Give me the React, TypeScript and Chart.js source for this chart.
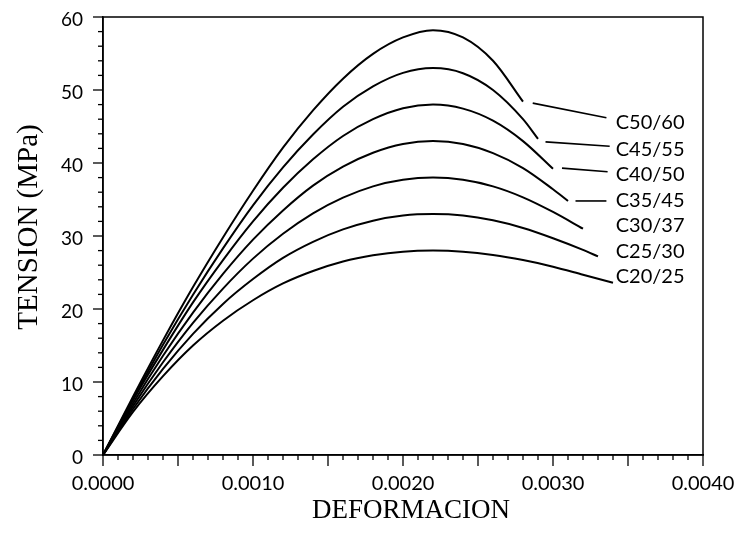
import React, { useEffect, useRef } from "react";
import { Chart, registerables } from "chart.js";

Chart.register(...registerables);

// Strain grid (shared sampling points)
const STRAIN = [
  0, 0.0002, 0.0004, 0.0006, 0.0008, 0.001, 0.0012, 0.0014, 0.0016,
  0.0018, 0.002, 0.0022, 0.0024, 0.0026, 0.0028, 0.003, 0.0032,
];

const CLASSES = ["C20/25", "C25/30", "C30/37", "C35/45", "C40/50", "C45/55", "C50/60"];

// Ultimate (last) strain of each curve
const CRUSH_STRAIN = [0.0034, 0.0033, 0.0032, 0.0031, 0.003, 0.0029, 0.0028];

// Stress values (MPa) at STRAIN grid points below the crush strain, last value at crush strain
const C20_25 = [0, 5.9, 10.8, 15.0, 18.4, 21.2, 23.5, 25.2, 26.5, 27.35, 27.85, 28.0, 27.85, 27.4, 26.7, 25.8, 24.7, 23.6];
const C25_30 = [0, 6.3, 11.8, 16.6, 20.7, 24.1, 27.0, 29.2, 30.9, 32.1, 32.8, 33.0, 32.8, 32.15, 31.1, 29.7, 28.1, 27.2];
const C30_37 = [0, 6.7, 12.7, 18.1, 22.8, 26.9, 30.3, 33.1, 35.25, 36.8, 37.7, 38.0, 37.7, 36.8, 35.3, 33.3, 31.0];
const C35_45 = [0, 7.1, 13.6, 19.5, 24.8, 29.5, 33.5, 36.9, 39.5, 41.4, 42.6, 43.0, 42.6, 41.35, 39.3, 36.4, 34.8];
const C40_50 = [0, 7.5, 14.4, 20.9, 26.7, 32.0, 36.6, 40.5, 43.7, 46.0, 47.5, 48.0, 47.45, 45.8, 43.0, 39.2];
const C45_55 = [0, 7.7, 15.1, 21.95, 28.3, 34.2, 39.4, 43.9, 47.7, 50.5, 52.35, 53.0, 52.3, 50.0, 46.0, 43.3];
const C50_60 = [0, 8.0, 15.7, 23.0, 29.8, 36.2, 42.1, 47.2, 51.55, 54.95, 57.2, 58.2, 57.2, 54.0, 48.4];

const STRESS = [C20_25, C25_30, C30_37, C35_45, C40_50, C45_55, C50_60];

// Series labels (data coordinates)
const LABEL_STRAIN = 0.003418;
const LABEL_STRESS = [24.4, 27.9, 31.5, 34.8, 38.4, 41.9, 45.5];

// Leader lines for the upper labels
const LEADER_CLASSES = ["C35/45", "C40/50", "C45/55", "C50/60"];
const LEADER_X0 = [0.00315, 0.00306, 0.00295, 0.002865];
const LEADER_Y0 = [34.8, 39.3, 42.9, 48.2];
const LEADER_X1 = [0.003356, 0.003364, 0.003378, 0.003356];
const LEADER_Y1 = [34.8, 38.8, 42.3, 46.2];

// Axis ticks
const X_MIN = 0;
const X_MAX = 0.004;
const X_TICK_LABELS = ["0.0000", "0.0010", "0.0020", "0.0030", "0.0040"];
const X_TICK_VALUES = [0, 0.001, 0.002, 0.003, 0.004];
const X_MINOR_STEP = 0.0001;
const Y_MIN = 0;
const Y_MAX = 60;
const Y_TICK_VALUES = [0, 10, 20, 30, 40, 50, 60];
const Y_MINOR_STEP = 2;

const X_TITLE = "DEFORMACION";
const Y_TITLE = "TENSION (MPa)";

const SANS = "Lato, 'Open Sans', sans-serif";
const SERIF = "'Liberation Serif', 'Times New Roman', serif";

function buildCurve(k: number) {
  const vals = STRESS[k];
  const n = vals.length;
  return vals.map((s, i) => ({ x: i < n - 1 ? STRAIN[i] : CRUSH_STRAIN[k], y: s }));
}

const decorPlugin = {
  id: "decor",
  afterDraw(chart: any) {
    const { ctx, chartArea, scales } = chart;
    const xs = scales.x;
    const ys = scales.y;
    ctx.save();
    ctx.strokeStyle = "#000";
    ctx.lineWidth = 1.5;
    // frame
    ctx.strokeRect(chartArea.left, chartArea.top, chartArea.right - chartArea.left, chartArea.bottom - chartArea.top);
    // x ticks
    const nx = Math.round((X_MAX - X_MIN) / X_MINOR_STEP);
    ctx.lineWidth = 1.3;
    for (let i = 0; i <= nx; i++) {
      const px = xs.getPixelForValue(X_MIN + i * X_MINOR_STEP);
      const len = i % 5 === 0 ? 11 : 5;
      ctx.beginPath();
      ctx.moveTo(px, chartArea.bottom);
      ctx.lineTo(px, chartArea.bottom + len);
      ctx.stroke();
    }
    // y ticks
    const ny = Math.round((Y_MAX - Y_MIN) / Y_MINOR_STEP);
    for (let j = 0; j <= ny; j++) {
      const py = ys.getPixelForValue(Y_MIN + j * Y_MINOR_STEP);
      const len = j % 5 === 0 ? 10 : 5;
      ctx.beginPath();
      ctx.moveTo(chartArea.left, py);
      ctx.lineTo(chartArea.left - len, py);
      ctx.stroke();
    }
    ctx.fillStyle = "#000";
    // x tick labels
    ctx.font = `20px ${SANS}`;
    ctx.textAlign = "center";
    ctx.textBaseline = "middle";
    X_TICK_VALUES.forEach((v, i) => {
      ctx.fillText(X_TICK_LABELS[i], xs.getPixelForValue(v), chartArea.bottom + 29);
    });
    // y tick labels
    ctx.font = `19px ${SANS}`;
    ctx.textAlign = "right";
    Y_TICK_VALUES.forEach((v) => {
      ctx.fillText(String(v), chartArea.left - 20, ys.getPixelForValue(v) + 3);
    });
    // x title
    ctx.font = `27px ${SERIF}`;
    ctx.textAlign = "center";
    ctx.fillText(X_TITLE, (chartArea.left + chartArea.right) / 2 + 8, chartArea.bottom + 56);
    // y title
    ctx.save();
    ctx.translate(29, (chartArea.top + chartArea.bottom) / 2 - 9);
    ctx.rotate(-Math.PI / 2);
    ctx.font = `29px ${SERIF}`;
    ctx.fillText(Y_TITLE, 0, 0);
    ctx.restore();
    // series labels
    ctx.font = `20px ${SANS}`;
    ctx.textAlign = "left";
    ctx.textBaseline = "middle";
    CLASSES.forEach((c, k) => {
      ctx.fillText(c, xs.getPixelForValue(LABEL_STRAIN), ys.getPixelForValue(LABEL_STRESS[k]));
    });
    ctx.restore();
  },
};

export default function App() {
  const ref = useRef<HTMLCanvasElement | null>(null);
  useEffect(() => {
    if (!ref.current) return;
    const curveSets = CLASSES.map((c, k) => ({
      label: c,
      data: buildCurve(k),
      showLine: true,
      borderColor: "#000",
      borderWidth: 2,
      pointRadius: 0,
      cubicInterpolationMode: "monotone" as const,
      fill: false,
    }));
    const leaderSets = LEADER_CLASSES.map((c, k) => ({
      label: "leader " + c,
      data: [
        { x: LEADER_X0[k], y: LEADER_Y0[k] },
        { x: LEADER_X1[k], y: LEADER_Y1[k] },
      ],
      showLine: true,
      borderColor: "#000",
      borderWidth: 1.6,
      pointRadius: 0,
      fill: false,
    }));
    const chart = new Chart(ref.current, {
      type: "scatter",
      data: { datasets: [...curveSets, ...leaderSets] as any },
      plugins: [decorPlugin],
      options: {
        animation: false,
        responsive: false,
        devicePixelRatio: 1,
        layout: { padding: { left: 0, top: 17, right: 43, bottom: 0 } },
        plugins: { legend: { display: false }, tooltip: { enabled: false } },
        scales: {
          x: {
            type: "linear",
            min: X_MIN,
            max: X_MAX,
            grid: { display: false },
            border: { display: true, color: "#000", width: 1.5 },
            ticks: { display: false },
            afterFit: (s: any) => {
              s.height = 79;
            },
          },
          y: {
            type: "linear",
            min: Y_MIN,
            max: Y_MAX,
            grid: { display: false },
            border: { display: true, color: "#000", width: 1.5 },
            ticks: { display: false },
            afterFit: (s: any) => {
              s.width = 103;
            },
          },
        },
      },
    });
    return () => chart.destroy();
  }, []);
  return (
    <div style={{ position: "fixed", left: 0, top: 0, width: 746, height: 534, background: "#fff" }}>
      <canvas ref={ref} width={746} height={534} style={{ display: "block" }} />
    </div>
  );
}
